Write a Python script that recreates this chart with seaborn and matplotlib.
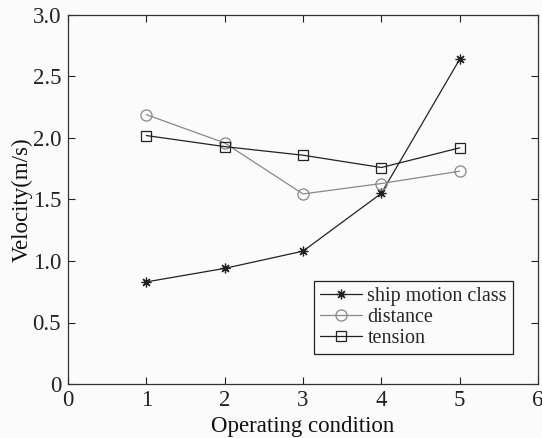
import matplotlib
matplotlib.use("Agg")
import matplotlib.pyplot as plt
import seaborn as sns
import pandas as pd

conditions = [1, 2, 3, 4, 5]
ship_motion = [0.83, 0.94, 1.08, 1.55, 2.64]
distance = [2.19, 1.96, 1.545, 1.63, 1.73]
tension = [2.02, 1.93, 1.86, 1.76, 1.92]

sns.set_style("ticks")
plt.rcParams['font.family'] = ['Liberation Serif', 'DejaVu Serif']

fig = plt.figure(figsize=(5.42, 4.38), dpi=100, facecolor='#fbfbfb')
ax = fig.add_axes([68/542, 1-384/438, (538-68)/542, (384-15)/438])
ax.set_facecolor('#fbfbfb')

series = [
    ("ship motion class", ship_motion, '#222222', (8, 2, 0)),
    ("distance", distance, '#888888', 'o'),
    ("tension", tension, '#222222', 's'),
]
for name, vals, col, mk in series:
    df = pd.DataFrame({"x": conditions, "y": vals})
    sns.lineplot(data=df, x="x", y="y", ax=ax, color=col, lw=0.9,
                 marker=mk, markersize=8 if mk == 'o' else 7,
                 markerfacecolor='none', markeredgecolor=col,
                 markeredgewidth=0.9, label=name)

ax.set_xlim(0, 6)
ax.set_ylim(0, 3.0)
ax.set_xticks(range(0, 7))
ax.set_yticks([0, 0.5, 1.0, 1.5, 2.0, 2.5, 3.0])
ax.set_yticklabels(['0', '0.5', '1.0', '1.5', '2.0', '2.5', '3.0'])
ax.tick_params(direction='in', top=True, right=True, labelsize=16.5,
               length=5, width=0.8, colors='#222222')
ax.tick_params(axis='x', pad=4)
ax.tick_params(axis='y', pad=5)
for s in ax.spines.values():
    s.set_color('#333333')
    s.set_linewidth(0.9)
ax.set_xlabel("Operating condition", fontsize=16.5, color='#111111', labelpad=4)
ax.set_ylabel("Velocity(m/s)", fontsize=16.5, color='#111111', labelpad=0)

leg = ax.legend(loc='lower right', bbox_to_anchor=(513/542, 1-354/438),
                bbox_transform=fig.transFigure, fontsize=14.5, frameon=True,
                fancybox=False, edgecolor='#222222', framealpha=1,
                handlelength=2.1, handletextpad=0.25, borderpad=0.3,
                labelspacing=0.1, borderaxespad=0)
leg.get_frame().set_linewidth(0.9)
leg.get_frame().set_facecolor('#fbfbfb')

fig.savefig("out.png", dpi=100, facecolor=fig.get_facecolor())
